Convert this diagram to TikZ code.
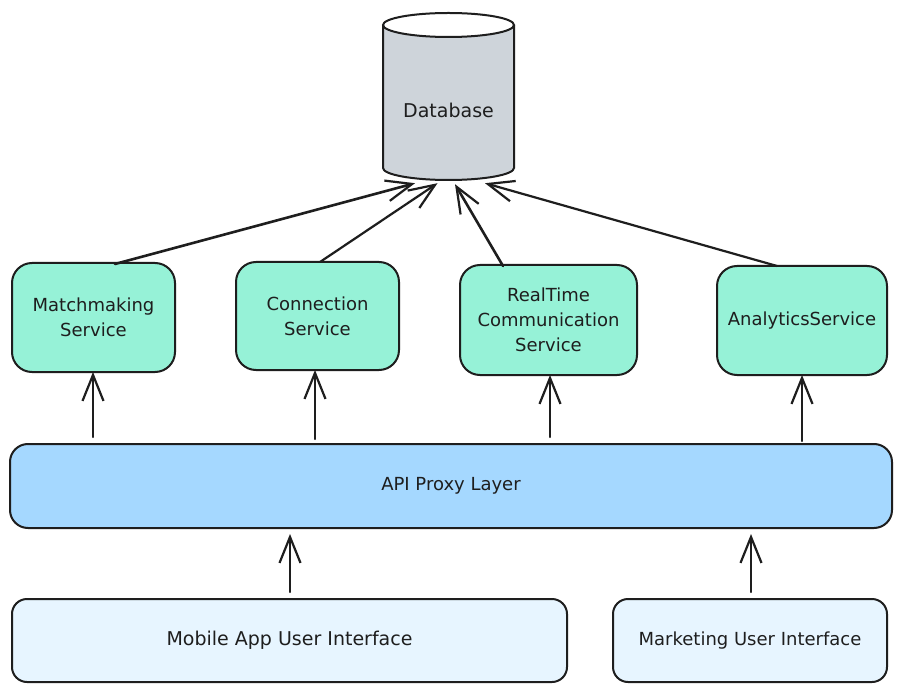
\documentclass[tikz,border=0pt]{standalone}
\usepackage{fontspec}
\setmainfont{DejaVu Sans}
\usetikzlibrary{arrows.meta,calc}
\definecolor{ink}{HTML}{1E1E1E}
\definecolor{dbfill}{HTML}{CED4DA}
\definecolor{svcfill}{HTML}{96F2D7}
\definecolor{apifill}{HTML}{A5D8FF}
\definecolor{uifill}{HTML}{E7F5FF}
\tikzset{
  box/.style={draw=ink, line width=2pt, align=center, inner sep=0pt,
    font=\fontsize{18}{25}\selectfont, text=ink},
  svc/.style={box, fill=svcfill, rounded corners=20pt},
  apibox/.style={box, fill=apifill, rounded corners=18pt},
  uibox/.style={box, fill=uifill, rounded corners=15pt},
  arr/.style={draw=ink, line width=2.2pt, line cap=round,
    -{Straight Barb[length=26pt, width=21pt, line width=2.2pt]}},
}
\begin{document}
\begin{tikzpicture}[x=1pt, y=-1pt]
\useasboundingbox[fill=white] (0,0) rectangle (901,692);
% database cylinder
\fill[dbfill] (383,25) rectangle (514,168);
\fill[dbfill] (448.5,168) ellipse [x radius=65.5, y radius=12];
\filldraw[fill=white, draw=ink, line width=2pt] (448.5,25) ellipse [x radius=65.5, y radius=12];
\draw[ink, line width=2pt] (383,25) -- (383,168) arc[start angle=180, end angle=0, x radius=65.5, y radius=12] -- (514,25);
\node[minimum width=131pt, minimum height=171pt, inner sep=0pt] (db) at (448.5,97.5) {};
\node[font=\fontsize{19}{25}\selectfont, text=ink] (dblabel) at (448.5,110) {Database};
% services
\node[svc, minimum width=163pt, minimum height=109pt] (mm) at (93.5,317.5) {Matchmaking\\Service};
\node[svc, minimum width=163pt, minimum height=108pt] (cs) at (317.5,316) {Connection\\Service};
\node[svc, minimum width=177pt, minimum height=110pt] (rt) at (548.5,320) {RealTime\\Communication\\Service};
\node[svc, minimum width=170pt, minimum height=109pt] (an) at (802,320.5) {AnalyticsService};
% api
\node[apibox, minimum width=882pt, minimum height=84pt] (api) at (451,486) {API Proxy Layer};
% UIs
\node[uibox, minimum width=555pt, minimum height=83pt, font=\fontsize{19}{25}\selectfont] (mob) at (289.5,640.5) {Mobile App User Interface};
\node[uibox, minimum width=274pt, minimum height=83pt] (mkt) at (750,640.5) {Marketing User Interface};
% arrows services -> db
\draw[arr, line width=2.6pt] ([xshift=21.5pt,yshift=-2pt]mm.north) -- ([xshift=-33.5pt]db.south);
\draw[arr] ([xshift=2.5pt,yshift=-1pt]cs.north) -- ([xshift=-11pt]db.south);
\draw[arr, line width=2.6pt] ([xshift=-45.5pt,yshift=-2pt]rt.north) -- ([xshift=6.5pt,yshift=-1pt]db.south);
\draw[arr] ([xshift=-25pt,yshift=-1pt]an.north) -- ([xshift=36.5pt]db.south);
% arrows api -> services
\draw[arr, shorten <=6pt] ([xshift=-0.5pt]mm.south |- api.north) -- ([xshift=-0.5pt,yshift=1pt]mm.south);
\draw[arr, shorten <=4pt] ([xshift=-2.5pt]cs.south |- api.north) -- ([xshift=-2.5pt,yshift=1pt]cs.south);
\draw[arr, shorten <=6pt] ([xshift=1.5pt]rt.south |- api.north) -- ([xshift=1.5pt,yshift=1pt]rt.south);
\draw[arr, shorten <=2pt] (an.south |- api.north) -- ([yshift=1pt]an.south);
% arrows UIs -> api
\draw[arr, shorten <=6pt, shorten >=5pt] ([xshift=0.5pt]mob.north) -- ([xshift=0.5pt]mob.north |- api.south);
\draw[arr, shorten <=6pt, shorten >=5pt] ([xshift=1pt]mkt.north) -- ([xshift=1pt]mkt.north |- api.south);
\end{tikzpicture}
\end{document}
